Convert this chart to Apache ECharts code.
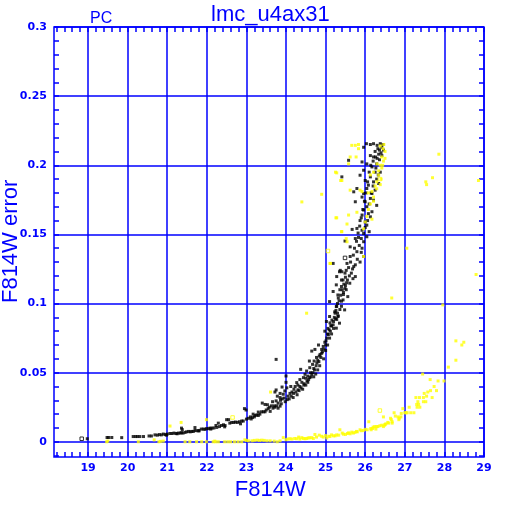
<!DOCTYPE html>
<html>
<head>
<meta charset="utf-8">
<script src="https://cdn.jsdelivr.net/npm/echarts@6/dist/echarts.min.js"></script>
<style>
  html, body { margin: 0; padding: 0; background: #fff; }
  #chart { width: 512px; height: 512px; }
</style>
</head>
<body>
<div id="chart"></div>
<script>
// F814W magnitude vs error
const blackPts = [
  [18.98,0.0022],[19.48,0.0031],[19.52,0.0031],[19.6,0.0031],[19.85,0.003],
  [20.14,0.0038],[20.2,0.0038],[20.25,0.0038],[20.31,0.0038],[20.4,0.0038],[20.54,0.0042],[20.6,0.0042],
  [20.69,0.005],[20.75,0.0048],[20.8,0.0052],[20.85,0.005],[20.9,0.0056],[20.95,0.0052],[21.0,0.0056],
  [21.07,0.006],[21.12,0.006],[21.17,0.0063],[21.22,0.006],[21.28,0.0063],[21.33,0.0063],[21.36,0.0066],[21.4,0.0063],[21.36,0.0099],[21.38,0.0088],
  [21.49,0.0072],[21.54,0.0075],[21.58,0.0072],[21.62,0.0075],[21.66,0.0075],[21.7,0.0082],[21.75,0.008],[21.8,0.0082],[21.7,0.0103],
  [21.86,0.0092],[21.91,0.0092],[21.95,0.009],[21.99,0.0095],[22.04,0.0095],[22.08,0.0099],[22.13,0.0099],[22.18,0.01],[22.23,0.0118],[22.29,0.0135],
  [22.25,0.0104],[22.32,0.011],[22.37,0.0118],[22.42,0.0123],[22.46,0.0118],[22.5,0.016],[22.55,0.016],
  [22.58,0.0135],[22.63,0.014],[22.68,0.014],[22.72,0.0143],[22.77,0.014],[22.82,0.0145],[22.88,0.015],[22.92,0.015],
  [22.95,0.024],[22.99,0.023],
  [23.0,0.0164],[23.05,0.017],[23.1,0.018],[23.15,0.0175],[23.2,0.018],[23.17,0.02],[23.22,0.019],[23.26,0.0195],
  [23.3,0.0215],[23.34,0.02],[23.38,0.0217],[23.43,0.0217],[23.47,0.0217],[23.5,0.023],[23.4,0.028],[23.47,0.027],[23.53,0.0268],
  [23.6,0.022],[23.63,0.026],[23.67,0.0243],[23.7,0.026],[23.72,0.025],[23.76,0.026],[23.8,0.0243],[23.85,0.0258],
  [23.66,0.029],[23.75,0.0296],[23.78,0.033],[23.8,0.028],[23.85,0.032],[23.86,0.03],[23.9,0.031],[23.93,0.0344],[23.95,0.0316],
  [23.97,0.0368],[23.9,0.0396],[23.85,0.035],[23.72,0.036],[23.75,0.0375],[23.75,0.0596],
  [24.0,0.0476],[24.02,0.039],[24.05,0.033],[24.1,0.035],[24.12,0.04],[24.15,0.036],[24.19,0.035],[24.2,0.038],[24.23,0.04],
  [24.27,0.0428],[24.3,0.0376],[24.3,0.041],[24.35,0.04],[24.35,0.045],[24.0,0.043],
  [24.4,0.043],[24.44,0.0464],[24.48,0.0488],[24.5,0.046],[24.52,0.0512],[24.55,0.0475],[24.6,0.0464],[24.37,0.0524],
  [24.6,0.0536],[24.62,0.05],[24.65,0.0488],[24.67,0.056],[24.59,0.0584],[24.71,0.0584],[24.7,0.053],
  [24.77,0.061],[24.65,0.0656],[24.73,0.0668],[24.8,0.059],[24.86,0.0632],[24.82,0.07],[24.9,0.0668],[24.94,0.069],
  [24.98,0.072],[24.98,0.08],[25.03,0.075],[25.07,0.0776],[25.09,0.081],[24.9,0.064],
  [25.02,0.087],[25.11,0.086],[25.15,0.0837],[25.2,0.087],[25.1,0.0906],[25.19,0.0846],[25.27,0.0822],[25.28,0.0885],
  [25.31,0.0906],[25.35,0.0858],[25.32,0.091],[25.24,0.093],[25.23,0.094],[25.36,0.0957],[25.48,0.0954],
  [25.28,0.098],[25.27,0.0978],[25.1,0.1014],[25.4,0.1017],[25.32,0.104],[25.44,0.1026],[25.45,0.1065],[25.31,0.1062],
  [25.56,0.105],[25.19,0.1087],[25.36,0.11],[25.52,0.11],[25.49,0.111],[25.4,0.1123],[25.27,0.1135],[25.61,0.1147],
  [25.53,0.115],[25.4,0.117],[25.44,0.117],[25.69,0.118],
  [25.28,0.1195],[25.75,0.1195],[25.35,0.123],[25.52,0.124],[25.37,0.124],[25.49,0.122],[25.65,0.122],
  [25.41,0.123],[25.71,0.1267],[25.54,0.129],[25.19,0.129],[25.87,0.13],
  [25.62,0.134],[25.96,0.134],[25.79,0.1375],[25.62,0.141],[25.92,0.14],[25.49,0.1452],[25.96,0.1447],[25.75,0.147],
  [25.83,0.1478],[26.04,0.1483],[25.96,0.1507],[25.67,0.1536],[25.92,0.153],[25.79,0.1543],[26.04,0.1567],[26.0,0.159],
  [25.87,0.16],[26.13,0.1627],[25.92,0.164],[26.17,0.1664],[25.96,0.1676],[26.04,0.17],[26.29,0.171],[25.75,0.1736],
  [26.0,0.1736],[26.21,0.1748],[26.13,0.176],[25.92,0.177],[26.17,0.1796],[25.96,0.1796],[25.71,0.1808],[25.79,0.1832],
  [26.04,0.1832],[26.08,0.1856],[26.34,0.1868],[26.21,0.188],[26.0,0.189],[26.29,0.19],[26.13,0.1916],[25.41,0.1916],
  [25.87,0.1928],[26.38,0.195],[26.25,0.195],[25.96,0.1964],[26.17,0.1988],[26.29,0.201],[26.04,0.201],[25.92,0.2024],
  [25.58,0.2036],[26.21,0.206],[26.13,0.207],[26.46,0.211],[26.34,0.208],[25.96,0.213],[26.03,0.2156],[26.13,0.215],
  [26.21,0.2156],[26.3,0.2144],[26.42,0.213],[26.38,0.2156],
  [26.25,0.21],[26.32,0.212],[26.4,0.209],[26.45,0.215],[26.36,0.204],[26.27,0.198],[26.33,0.193],[26.2,0.185],
  [26.15,0.18],[26.25,0.182],[26.1,0.172],[26.08,0.165],[26.06,0.16],[26.0,0.155],[26.1,0.152],[25.9,0.147],
  [25.85,0.142],[25.9,0.137],[25.8,0.132],[25.75,0.128],[25.68,0.125],[25.6,0.12],[25.55,0.117],[25.5,0.113],
  [25.45,0.108],[25.4,0.098],[25.3,0.093],[25.25,0.089],[25.2,0.082],[25.15,0.078],[25.1,0.075],[25.05,0.07],
  [25.0,0.066],[24.95,0.06],[24.85,0.055],[24.8,0.052],[24.75,0.049],[24.7,0.047],[24.55,0.043],[24.45,0.041],
  [24.08,0.031],[24.13,0.033],[24.18,0.032],[24.25,0.036],[24.28,0.034],[24.33,0.037],[24.38,0.039],[24.42,0.038],
  [24.46,0.042],[24.5,0.041],[24.53,0.044],[24.57,0.045],[24.63,0.047],[24.68,0.05],[24.72,0.052],[24.76,0.055],
  [24.78,0.057],[24.83,0.058],[24.84,0.062],[24.88,0.061],[24.92,0.065],[24.96,0.067],[25.0,0.07],[25.01,0.073],
  [25.05,0.078],[25.06,0.082],[25.12,0.08],[25.13,0.084],[25.16,0.088],[25.22,0.09],[25.26,0.095],[25.3,0.1],
  [25.34,0.102],[25.38,0.106],[25.42,0.11],[25.46,0.114],[25.5,0.119],[25.58,0.126],[25.63,0.13],[25.7,0.135],
  [25.73,0.14],[25.78,0.145],[25.82,0.151],[25.86,0.156],[25.9,0.162],[25.94,0.168],[25.98,0.174],[26.02,0.18],
  [26.06,0.188],[26.1,0.195],[26.14,0.2],[26.2,0.203],[26.26,0.206],[26.3,0.205],[26.36,0.211],[26.42,0.207],
  [23.55,0.024],[23.58,0.025],[23.88,0.0275],[23.98,0.029],[24.03,0.0305],[23.3,0.019],[23.12,0.0165],[22.85,0.013],
  [22.45,0.0108],[22.1,0.0092],[21.8,0.0078],[21.45,0.0068],[21.25,0.0058],[20.98,0.0048]
];
const blackOpen = [[18.84,0.0022],[25.49,0.133]];

const yellowPts = [
  [19.47,0.0],[19.5,0.0005],[20.27,0.0],[20.67,0.0014],[20.79,0.0],[20.83,0.0003],[20.9,0.0005],[21.07,0.0114],
  [21.35,0.014],[21.45,0.0],[21.57,0.0],[21.74,0.0],[21.87,0.0],[21.99,0.016],[21.99,0.0],[22.16,0.0],[22.22,0.0],
  [22.29,0.0],[22.53,0.0],[22.6,0.0],[22.7,0.0],[22.79,0.0],[22.96,0.0014],[23.0,0.001],[23.14,0.0007],[23.27,0.0012],
  [23.33,0.001],[23.39,0.0012],[23.52,0.0007],[23.6,0.0007],[23.61,0.036],[23.85,0.0007],[23.93,0.003],[24.05,0.002],
  [24.1,0.0022],[24.15,0.002],[24.22,0.0024],[24.27,0.0022],[24.32,0.0034],[24.35,0.002],[24.44,0.0024],[24.52,0.0024],
  [24.6,0.0029],[24.69,0.0024],[24.73,0.0053],[24.77,0.0034],[24.84,0.0048],[24.94,0.0034],[25.03,0.0028],[25.11,0.0038],
  [25.2,0.0043],[25.24,0.0043],[25.33,0.0048],[25.36,0.0087],[25.42,0.0063],[25.5,0.0053],[25.55,0.006],[25.62,0.0058],
  [25.7,0.0063],[25.78,0.0075],[25.8,0.0072],[25.87,0.0087],[25.95,0.0082],[26.05,0.0087],[26.09,0.0145],[26.14,0.0096],
  [26.15,0.0087],[26.19,0.0096],[26.2,0.0106],[26.24,0.011],[26.27,0.0092],[26.29,0.011],[26.32,0.011],[26.37,0.0116],
  [26.42,0.012],[26.46,0.011],[26.46,0.018],[26.49,0.012],[26.5,0.0125],[26.52,0.013],[26.57,0.014],[26.59,0.0135],
  [26.64,0.017],[26.66,0.016],[26.68,0.0145],[26.68,0.0135],[26.73,0.021],[26.76,0.0186],[26.83,0.018],[26.85,0.016],
  [26.86,0.017],[26.9,0.018],[26.91,0.0205],[26.95,0.024],[27.0,0.021],[27.03,0.021],[27.06,0.021],[27.11,0.025],
  [27.15,0.021],[27.23,0.021],[27.28,0.032],[27.3,0.027],[27.31,0.025],[27.33,0.029],[27.35,0.027],[27.37,0.032],
  [27.38,0.025],[27.45,0.049],[27.47,0.032],[27.47,0.029],[27.49,0.035],[27.53,0.029],[27.55,0.033],[27.58,0.036],
  [27.64,0.045],[27.65,0.037],[27.69,0.032],[27.74,0.04],[27.8,0.037],[27.84,0.044],[27.96,0.099],[27.99,0.044],
  [28.1,0.054],[28.29,0.059],[28.29,0.073],[28.44,0.07],[28.49,0.072],
  [22.2,0.0005],[22.45,0.0],[22.88,0.0],[23.05,0.0007],[23.2,0.001],[23.45,0.001],[23.7,0.0005],[23.78,0.0],
  [24.0,0.0015],[24.4,0.003],[24.48,0.0022],[24.56,0.0028],[24.65,0.003],[24.9,0.004],[25.0,0.0045],[25.08,0.004],
  [25.15,0.005],[25.28,0.005],[25.45,0.0055],[25.58,0.0065],[25.66,0.007],[25.74,0.0068],[25.9,0.008],[26.0,0.009],
  [25.66,0.2144],[25.75,0.2144],[25.83,0.215],[25.83,0.212],[26.38,0.214],[26.45,0.212],[26.5,0.21],[26.42,0.206],
  [26.46,0.203],[26.3,0.201],[26.38,0.2],[26.34,0.196],[26.42,0.198],[26.21,0.195],[26.34,0.193],[26.13,0.193],
  [26.29,0.188],[26.38,0.186],[26.25,0.185],[26.17,0.181],[26.08,0.18],[26.21,0.177],[26.13,0.172],[26.08,0.168],
  [26.04,0.163],[26.17,0.161],[26.0,0.159],[25.96,0.154],[26.21,0.174],[26.29,0.183],[25.62,0.206],[25.77,0.206],
  [25.58,0.201],[25.28,0.1945],[25.41,0.189],[25.62,0.182],[25.87,0.182],[25.92,0.181],[25.28,0.162],[25.58,0.164],
  [25.54,0.1575],[25.79,0.166],[25.41,0.152],[25.52,0.147],[25.54,0.1447],[25.12,0.129],[25.96,0.134],[24.4,0.1735],
  [24.9,0.179],[25.25,0.195],[25.38,0.189],[25.26,0.162],[25.4,0.152],[25.11,0.129],[24.52,0.093],[26.67,0.104],
  [27.05,0.14],[27.86,0.208],[27.7,0.191],[27.53,0.188],[27.55,0.186],[28.86,0.189],[28.8,0.121],[26.47,0.215],
  [26.5,0.205],[26.4,0.19],[26.44,0.2]
];
const yellowOpen = [[22.65,0.0176],[26.37,0.0226],[25.06,0.138],[26.37,0.19]];

const xRange = [18.14, 29];
const yRange = [-0.011, 0.3];

const BLUE = "#0000ff";
const labelFont = { color: BLUE, fontFamily: "DejaVu Sans", fontWeight: "bold", fontSize: 11 };

// plot box is 54..484 x 27..457 px; helper axes sit on grids sized so their round ticks land right
const pxX = 430 / (xRange[1] - xRange[0]);
const pxY = 430 / (yRange[1] - yRange[0]);

const hidden = { show: false, min: 0, max: 1 };
const minorTick = { show: true, inside: true, length: 5, lineStyle: { color: BLUE, width: 1.5 } };
const noFit = { outerBoundsMode: "none", containLabel: false };

const option = {
  backgroundColor: "#fff",
  animation: false,
  title: [
    { text: "lmc_u4ax31", left: 206, top: -1,
      textStyle: { color: BLUE, fontFamily: "Liberation Sans", fontWeight: "normal", fontSize: 22 } },
    { text: "PC", left: 85, top: 6,
      textStyle: { color: BLUE, fontFamily: "Liberation Sans", fontWeight: "normal", fontSize: 16 } }
  ],
  grid: [
    // 0: data + frame
    Object.assign({ left: 54, right: 28, top: 27, bottom: 55, show: true, borderColor: BLUE, borderWidth: 1.5, backgroundColor: "transparent" }, noFit),
    // 1: vertical grid lines 19..29
    Object.assign({ left: 484 - 10 * pxX, right: 28, top: 27, bottom: 55 }, noFit),
    // 2: horizontal grid lines 0..0.3
    Object.assign({ left: 54, right: 28, top: 27, bottom: 512 - (27 + 0.3 * pxY) }, noFit),
    // 3: x minor ticks 18.2..29
    Object.assign({ left: 484 - 10.8 * pxX, right: 28, top: 27, bottom: 55 }, noFit),
    // 4: y minor ticks -0.01..0.3
    Object.assign({ left: 54, right: 28, top: 27, bottom: 512 - (27 + 0.31 * pxY) }, noFit)
  ],
  xAxis: [
    { gridIndex: 0, type: "value", min: xRange[0], max: xRange[1], show: false },
    { gridIndex: 1, type: "value", min: 19, max: 29, interval: 1, position: "bottom",
      axisLine: { show: false, onZero: false }, axisTick: { show: false },
      axisLabel: Object.assign({ margin: 6 }, labelFont),
      splitLine: { show: true, lineStyle: { color: BLUE, width: 1.5 } } },
    Object.assign({ gridIndex: 2, type: "value" }, hidden),
    { gridIndex: 3, type: "value", min: 18.2, max: 29, interval: 0.2, position: "bottom",
      name: "F814W", nameLocation: "middle", nameGap: 22,
      nameTextStyle: { color: BLUE, fontFamily: "Liberation Sans", fontSize: 22 },
      axisLine: { show: false, onZero: false }, axisLabel: { show: false }, splitLine: { show: false },
      axisTick: minorTick },
    { gridIndex: 3, type: "value", min: 18.2, max: 29, interval: 0.2, position: "top",
      axisLine: { show: false, onZero: false }, axisLabel: { show: false }, splitLine: { show: false },
      axisTick: minorTick },
    Object.assign({ gridIndex: 4, type: "value" }, hidden)
  ],
  yAxis: [
    { gridIndex: 0, type: "value", min: yRange[0], max: yRange[1], show: false },
    Object.assign({ gridIndex: 1, type: "value" }, hidden),
    { gridIndex: 2, type: "value", min: 0, max: 0.3, interval: 0.05, position: "left",
      axisLine: { show: false, onZero: false }, axisTick: { show: false },
      axisLabel: Object.assign({ margin: 7 }, labelFont),
      splitLine: { show: true, lineStyle: { color: BLUE, width: 1.5 } } },
    Object.assign({ gridIndex: 3, type: "value" }, hidden),
    { gridIndex: 4, type: "value", min: -0.01, max: 0.3, interval: 0.01, position: "left",
      name: "F814W error", nameLocation: "middle", nameGap: 32, nameRotate: 90,
      nameTextStyle: { color: BLUE, fontFamily: "Liberation Sans", fontSize: 22 },
      axisLine: { show: false, onZero: false }, axisLabel: { show: false }, splitLine: { show: false },
      axisTick: minorTick },
    { gridIndex: 4, type: "value", min: -0.01, max: 0.3, interval: 0.01, position: "right",
      axisLine: { show: false, onZero: false }, axisLabel: { show: false }, splitLine: { show: false },
      axisTick: minorTick }
  ],
  series: [
    { name: "black", type: "scatter", xAxisIndex: 0, yAxisIndex: 0, symbol: "rect", symbolSize: 3,
      itemStyle: { color: "#000" }, data: blackPts },
    { name: "blackOpen", type: "scatter", xAxisIndex: 0, yAxisIndex: 0, symbol: "rect", symbolSize: 3.5,
      itemStyle: { color: "transparent", borderColor: "#000", borderWidth: 1 }, data: blackOpen },
    { name: "yellow", type: "scatter", xAxisIndex: 0, yAxisIndex: 0, symbol: "rect", symbolSize: 3,
      itemStyle: { color: "#ffff00" }, data: yellowPts },
    { name: "yellowOpen", type: "scatter", xAxisIndex: 0, yAxisIndex: 0, symbol: "rect", symbolSize: 3.5,
      itemStyle: { color: "transparent", borderColor: "#ffff00", borderWidth: 1 }, data: yellowOpen }
  ]
};

const chart = echarts.init(document.getElementById("chart"));
chart.setOption(option);
</script>
</body>
</html>
